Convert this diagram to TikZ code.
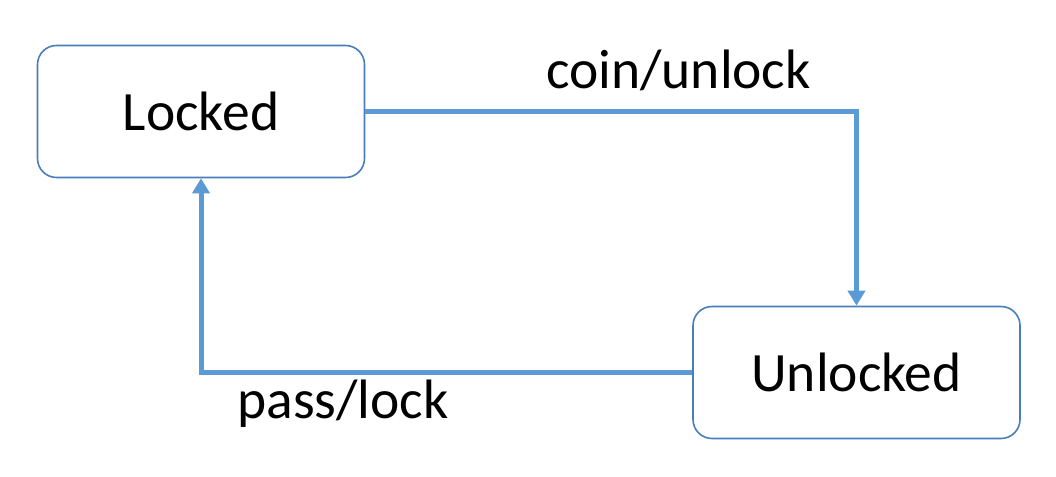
\documentclass[tikz,border=0pt]{standalone}
\usepackage{fontspec}
\setmainfont{Carlito}
\usetikzlibrary{arrows.meta}
\definecolor{boxline}{HTML}{4A7EBB}
\definecolor{arrowc}{HTML}{5B9BD5}
\begin{document}
\begin{tikzpicture}[x=1pt,y=1pt,
  state/.style={draw=boxline, line width=1.6pt, rounded corners=19pt, fill=white,
    minimum width=327pt, minimum height=132pt, inner sep=0pt,
    font=\fontsize{55.5}{60}\selectfont},
  trans/.style={draw=arrowc, line width=5pt, -{Triangle[width=17pt,length=15pt]}},
  lbl/.style={font=\fontsize{55.5}{60}\selectfont, anchor=base, inner sep=0pt}]
\useasboundingbox (0,0) rectangle (1056,476);
\node[state] (locked) at (201,364.5) {Locked};
\node[state] (unlocked) at (856.5,103.5) {Unlocked};
\draw[trans] (locked.east) -| (unlocked.north);
\draw[trans] (unlocked.west) -| (locked.south);
\node[lbl] (l1) at (678.5,387) {coin/unlock};
\node[lbl] (l2) at (343,57) {pass/lock};
\end{tikzpicture}
\end{document}
